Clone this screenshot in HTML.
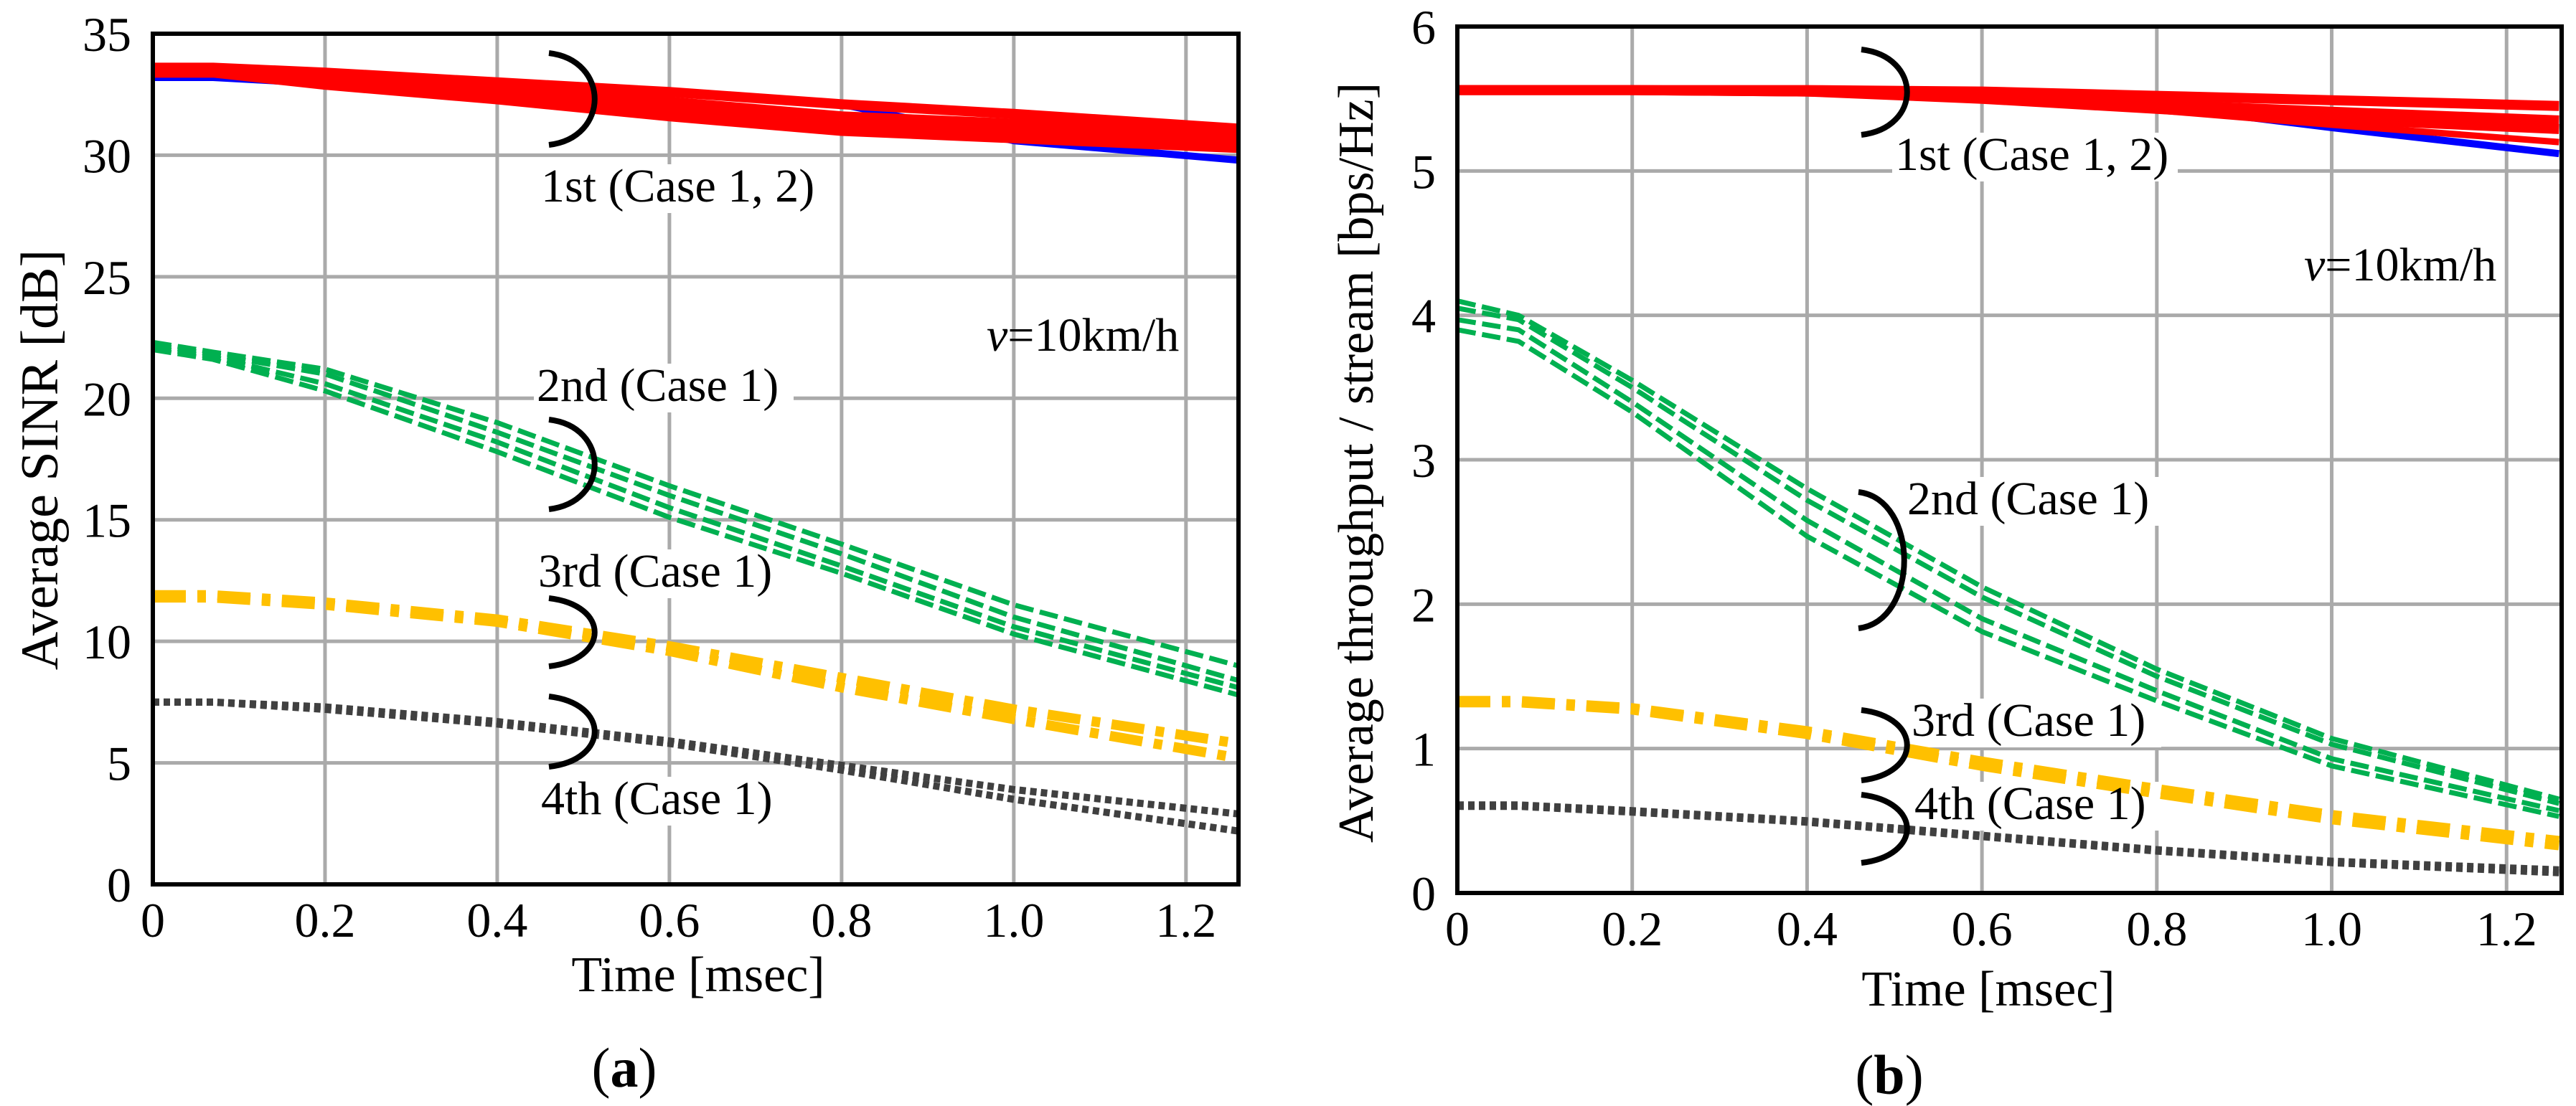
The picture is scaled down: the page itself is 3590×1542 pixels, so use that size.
<!DOCTYPE html>
<html><head><meta charset="utf-8"><style>
html,body{margin:0;padding:0;background:#fff;}
svg{display:block;font-family:"Liberation Serif",serif;}
</style></head><body>
<svg id="fig" width="3590" height="1542" viewBox="0 0 3590 1542" xmlns="http://www.w3.org/2000/svg">
<rect width="3590" height="1542" fill="#fff"/>
<g id="pa"></g>
<g id="pb"></g>
</svg>
<script>
const timeX = [0, 0.07, 0.2, 0.4, 0.6, 0.8, 1.0, 1.26];
// Chart (a) SINR [dB]
const aRed1 = [33.6, 33.6, 33.4, 33.0, 32.6, 32.1, 31.7, 31.1];
const aRed2 = [33.5, 33.5, 33.2, 32.7, 32.2, 31.6, 31.3, 30.8];
const aRed3 = [33.4, 33.4, 33.0, 32.4, 31.8, 31.2, 30.9, 30.5];
const aRed4 = [33.4, 33.4, 32.9, 32.3, 31.6, 31.0, 30.7, 30.3];
const aBlue = [33.2, 33.2, 32.95, 32.9, 32.6, 32.1, 30.6, 29.8];
const aGreen1 = [22.3, 21.9, 21.2, 19.0, 16.4, 14.0, 11.5, 9.0];
const aGreen2 = [22.2, 21.8, 21.0, 18.6, 16.0, 13.6, 11.0, 8.4];
const aGreen3 = [22.1, 21.7, 20.6, 18.2, 15.5, 13.1, 10.6, 8.1];
const aGreen4 = [22.0, 21.6, 20.3, 17.8, 15.1, 12.8, 10.3, 7.8];
const aYellow1 = [11.9, 11.9, 11.6, 10.9, 9.8, 8.5, 7.2, 5.8];
const aYellow2 = [11.8, 11.8, 11.5, 10.8, 9.6, 8.1, 6.8, 5.2];
const aGray1 = [7.5, 7.5, 7.3, 6.7, 5.9, 4.9, 3.9, 2.9];
const aGray2 = [7.5, 7.5, 7.2, 6.6, 5.8, 4.7, 3.5, 2.2];
const aYTicks = [0, 5, 10, 15, 20, 25, 30, 35];
// Chart (b) throughput [bps/Hz]
const bRed1 = [5.56, 5.56, 5.56, 5.56, 5.55, 5.52, 5.49, 5.45];
const bRed2 = [5.56, 5.56, 5.56, 5.55, 5.52, 5.46, 5.41, 5.35];
const bRed3 = [5.56, 5.56, 5.56, 5.55, 5.50, 5.43, 5.36, 5.29];
const bRed4 = [5.56, 5.56, 5.56, 5.55, 5.50, 5.42, 5.32, 5.20];
const bBlue = [5.56, 5.56, 5.56, 5.55, 5.52, 5.45, 5.30, 5.12];
const bGreen1 = [4.10, 4.00, 3.55, 2.80, 2.12, 1.55, 1.07, 0.65];
const bGreen2 = [4.05, 3.97, 3.50, 2.72, 2.05, 1.50, 1.03, 0.62];
const bGreen3 = [3.97, 3.90, 3.40, 2.58, 1.90, 1.40, 0.93, 0.57];
const bGreen4 = [3.90, 3.82, 3.33, 2.47, 1.81, 1.33, 0.88, 0.53];
const bYellow1 = [1.33, 1.33, 1.28, 1.12, 0.91, 0.72, 0.54, 0.36];
const bYellow2 = [1.32, 1.32, 1.27, 1.10, 0.88, 0.69, 0.51, 0.33];
const bGray1 = [0.61, 0.61, 0.57, 0.50, 0.40, 0.30, 0.22, 0.16];
const bGray2 = [0.60, 0.60, 0.56, 0.49, 0.39, 0.29, 0.21, 0.14];
const bYTicks = [0, 1, 2, 3, 4, 5, 6];
const xTicks = [0, 0.2, 0.4, 0.6, 0.8, 1.0, 1.2];
const xTickLabels = ["0", "0.2", "0.4", "0.6", "0.8", "1.0", "1.2"];

const NS = "http://www.w3.org/2000/svg";
function mk(parent, tag, attrs, text) {
  const e = document.createElementNS(NS, tag);
  for (const k in attrs) e.setAttribute(k, attrs[k]);
  if (text !== undefined) e.textContent = text;
  parent.appendChild(e);
  return e;
}

function buildChart(g, cfg) {
  const X = v => cfg.left + (v / cfg.xmax) * (cfg.right - cfg.left);
  const Y = v => cfg.bottom - (v / cfg.ymax) * (cfg.bottom - cfg.top);
  xTicks.forEach(t => {
    if (t === 0) return;
    const l = mk(g, "line", {x1: X(t), x2: X(t), y1: cfg.top, y2: cfg.bottom, stroke: "#aaaaaa", "stroke-width": 5});
    
    
  });
  cfg.yTicks.forEach(t => {
    if (t === 0 || t === cfg.ymax) return;
    const l = mk(g, "line", {x1: cfg.left, x2: cfg.right, y1: Y(t), y2: Y(t), stroke: "#aaaaaa", "stroke-width": 5});
    
    
  });
  cfg.labels.forEach(lb => {
    const r = mk(g, "rect", {x: lb.x - 4, y: lb.y - 52, width: lb.w, height: 68, fill: "#fff"});
    
    
  });
  cfg.series.forEach(s => {
    const pts = timeX.map((t, i) => X(t).toFixed(1) + "," + Y(s.v[i]).toFixed(1)).join(" ");
    const attrs = {points: pts, fill: "none", stroke: s.c, "stroke-width": s.w, "stroke-linejoin": "round"};
    if (s.d) attrs["stroke-dasharray"] = s.d;
    const p = mk(g, "polyline", attrs);
    
    
  });
  const cov = mk(g, "rect", {x: cfg.right + 3, y: cfg.top - 10, width: 30, height: cfg.bottom - cfg.top + 20, fill: "#fff"});
  
  
  const fr = mk(g, "rect", {x: cfg.left, y: cfg.top, width: cfg.right - cfg.left, height: cfg.bottom - cfg.top, fill: "none", stroke: "#000", "stroke-width": 6});
  
  
  cfg.yTicks.forEach(t => {
    const tx = mk(g, "text", {x: cfg.left - 30, y: Y(t) + 24, "font-size": 68, "text-anchor": "end"}, String(t));
    
    
  });
  xTicks.forEach((t, i) => {
    const tx = mk(g, "text", {x: X(t), y: cfg.bottom + 73, "font-size": 68, "text-anchor": "middle"}, xTickLabels[i]);
    
    
  });
  const xt = mk(g, "text", {x: cfg.xtX, y: cfg.xtY, "font-size": 70, "text-anchor": "middle"}, "Time [msec]");
  
  
  const yt = mk(g, "text", {x: 0, y: 0, "font-size": cfg.ytSize, "text-anchor": "middle", transform: `translate(${cfg.ytX},${cfg.ytY}) rotate(-90)`}, cfg.ytitle);
  
  
  cfg.labels.forEach(lb => {
    const tx = mk(g, "text", {x: lb.x, y: lb.y, "font-size": 66}, lb.t);
    
    
  });
  cfg.brackets.forEach(b => {
    const d = `M ${b.x} ${b.y1} C ${b.x + 85} ${b.y1 + 10}, ${b.x + 85} ${b.y2 - 10}, ${b.x} ${b.y2}`;
    const p = mk(g, "path", {d: d, fill: "none", stroke: "#000", "stroke-width": 8});
    
    
  });
  const v = mk(g, "text", {x: cfg.vX, y: cfg.vY, "font-size": 66});
  
  
  mk(v, "tspan", {"font-style": "italic"}, "v");
  mk(v, "tspan", {}, "=10km/h");
  const pl = mk(g, "text", {x: cfg.pX, y: cfg.pY, "font-size": 78, "text-anchor": "middle"});
  
  
  mk(pl, "tspan", {}, "(");
  mk(pl, "tspan", {"font-weight": "bold"}, cfg.letter);
  mk(pl, "tspan", {}, ")");
}

const GD = "26 9", YD = "46 16 12 16", DD = "9 6";
buildChart(document.getElementById("pa"), {
  left: 213, right: 1726, top: 47, bottom: 1233, xmax: 1.261, ymax: 35, yTicks: aYTicks,
  ytitle: "Average SINR [dB]", ytSize: 74, ytX: 80, ytY: 641, xtX: 973, xtY: 1382,
  vX: 1375, vY: 489, pX: 870, pY: 1515, letter: "a",
  labels: [
    {t: "1st (Case 1, 2)", x: 754, y: 281, w: 398},
    {t: "2nd (Case 1)", x: 748, y: 559, w: 362},
    {t: "3rd (Case 1)", x: 750, y: 818, w: 352},
    {t: "4th (Case 1)", x: 754, y: 1135, w: 350}
  ],
  brackets: [
    {x: 765, y1: 74, y2: 202}, {x: 765, y1: 585, y2: 710},
    {x: 765, y1: 834, y2: 929}, {x: 765, y1: 971, y2: 1069}
  ],
  series: [
    {n: "series-1st-case1-blue", v: aBlue, c: "#0000ff", w: 10},
    {n: "series-1st-red-1", v: aRed1, c: "#ff0000", w: 14},
    {n: "series-1st-red-2", v: aRed2, c: "#ff0000", w: 14},
    {n: "series-1st-red-3", v: aRed3, c: "#ff0000", w: 14},
    {n: "series-1st-red-4", v: aRed4, c: "#ff0000", w: 14},
    {n: "series-2nd-green-1", v: aGreen1, c: "#00b050", w: 7, d: GD},
    {n: "series-2nd-green-2", v: aGreen2, c: "#00b050", w: 7, d: GD},
    {n: "series-2nd-green-3", v: aGreen3, c: "#00b050", w: 7, d: GD},
    {n: "series-2nd-green-4", v: aGreen4, c: "#00b050", w: 7, d: GD},
    {n: "series-3rd-yellow-1", v: aYellow1, c: "#ffc000", w: 14, d: YD},
    {n: "series-3rd-yellow-2", v: aYellow2, c: "#ffc000", w: 14, d: YD},
    {n: "series-4th-gray-1", v: aGray1, c: "#404040", w: 10, d: DD},
    {n: "series-4th-gray-2", v: aGray2, c: "#404040", w: 10, d: DD}
  ]
});
buildChart(document.getElementById("pb"), {
  left: 2031, right: 3570, top: 37, bottom: 1245, xmax: 1.263, ymax: 6, yTicks: bYTicks,
  ytitle: "Average throughput / stream [bps/Hz]", ytSize: 70, ytX: 1913, ytY: 645, xtX: 2771, xtY: 1402,
  vX: 3211, vY: 391, pX: 2633, pY: 1525, letter: "b",
  labels: [
    {t: "1st (Case 1, 2)", x: 2641, y: 237, w: 398},
    {t: "2nd (Case 1)", x: 2658, y: 717, w: 362},
    {t: "3rd (Case 1)", x: 2664, y: 1026, w: 352},
    {t: "4th (Case 1)", x: 2668, y: 1142, w: 350}
  ],
  brackets: [
    {x: 2594, y1: 69, y2: 188}, {x: 2590, y1: 686, y2: 876},
    {x: 2594, y1: 990, y2: 1088}, {x: 2594, y1: 1108, y2: 1203}
  ],
  series: [
    {n: "series-1st-case1-blue", v: bBlue, c: "#0000ff", w: 10},
    {n: "series-1st-red-1", v: bRed1, c: "#ff0000", w: 14},
    {n: "series-1st-red-2", v: bRed2, c: "#ff0000", w: 14},
    {n: "series-1st-red-3", v: bRed3, c: "#ff0000", w: 14},
    {n: "series-1st-red-4", v: bRed4, c: "#ff0000", w: 9},
    {n: "series-2nd-green-1", v: bGreen1, c: "#00b050", w: 7, d: GD},
    {n: "series-2nd-green-2", v: bGreen2, c: "#00b050", w: 7, d: GD},
    {n: "series-2nd-green-3", v: bGreen3, c: "#00b050", w: 7, d: GD},
    {n: "series-2nd-green-4", v: bGreen4, c: "#00b050", w: 7, d: GD},
    {n: "series-3rd-yellow-1", v: bYellow1, c: "#ffc000", w: 14, d: YD},
    {n: "series-3rd-yellow-2", v: bYellow2, c: "#ffc000", w: 14, d: YD},
    {n: "series-4th-gray-1", v: bGray1, c: "#404040", w: 10, d: DD},
    {n: "series-4th-gray-2", v: bGray2, c: "#404040", w: 10, d: DD}
  ]
});
</script>
</body></html>
